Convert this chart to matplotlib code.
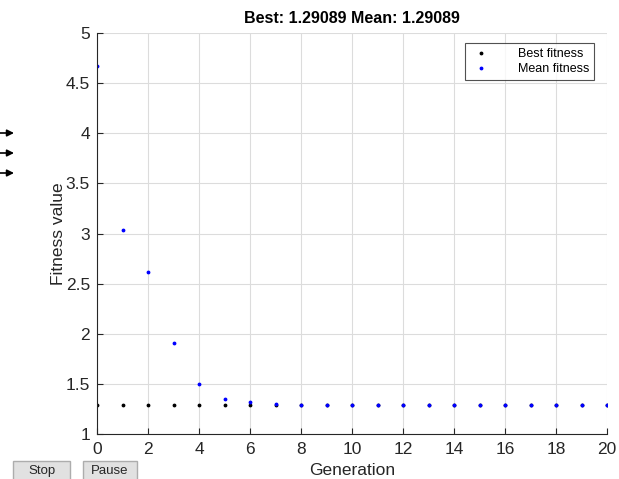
import matplotlib
matplotlib.use("Agg")
import matplotlib.pyplot as plt

generations = list(range(21))
best_fitness = [1.29089] * 21
mean_fitness = [4.67, 3.035, 2.62, 1.905, 1.495, 1.345, 1.315, 1.295, 1.292, 1.291, 1.291,
                1.291, 1.291, 1.291, 1.291, 1.291, 1.291, 1.291, 1.291, 1.291, 1.29089]
x_ticks = list(range(0, 21, 2))
y_ticks = [1, 1.5, 2, 2.5, 3, 3.5, 4, 4.5, 5]
y_labels = ["1", "1.5", "2", "2.5", "3", "3.5", "4", "4.5", "5"]

plt.rcParams['font.family'] = ['Liberation Sans', 'DejaVu Sans']
fig = plt.figure(figsize=(6.19, 4.79), dpi=100)
ax = fig.add_axes([97/619, 1-434/479, 510/619, 401/479])

ax.plot(generations, best_fitness, linestyle='none', marker='.', color='black', markersize=3.5, label='Best fitness')
ax.plot(generations, mean_fitness, linestyle='none', marker='.', color='blue', markersize=3.5, label='Mean fitness')

ax.set_xlim(0, 20)
ax.set_ylim(1, 5)
ax.set_xticks(x_ticks)
ax.set_yticks(y_ticks)
ax.set_yticklabels(y_labels)
ax.grid(True, color='#dcdcdc', linewidth=0.8)
ax.set_axisbelow(True)
for s in ['top', 'right']:
    ax.spines[s].set_visible(False)
for s in ['left', 'bottom']:
    ax.spines[s].set_color('#262626')
    ax.spines[s].set_linewidth(0.8)
ax.tick_params(direction='in', length=4, labelsize=12.5, colors='#262626', width=0.8)
ax.tick_params(axis='x', pad=6)
ax.tick_params(axis='y', pad=5)
ax.set_xlabel('Generation', fontsize=12.5, color='#262626', labelpad=4)
ax.set_ylabel('Fitness value', fontsize=12.5, color='#262626', labelpad=0)
ax.set_title('Best: 1.29089 Mean: 1.29089', fontsize=11.5, fontweight='bold', pad=7)

leg = ax.legend(loc='upper right', bbox_to_anchor=(594/619, 1-43/479), bbox_transform=fig.transFigure,
                fontsize=9, frameon=True, fancybox=False, edgecolor='#262626', handletextpad=2.0,
                borderpad=0.4, labelspacing=0.25, handlelength=1.8, borderaxespad=0)
leg.get_frame().set_linewidth(0.8)

# left arrows
for yy in [133, 153, 173]:
    fig.add_artist(matplotlib.patches.FancyArrowPatch((0, 1-yy/479), (14/619, 1-yy/479),
                   transform=fig.transFigure, arrowstyle='-|>', mutation_scale=10, color='black',
                   linewidth=1.2, shrinkA=0, shrinkB=0))

# buttons
for x0, w, txt in [(13, 57, 'Stop'), (83, 54, 'Pause')]:
    r = matplotlib.patches.Rectangle((x0/619, 1-480/479), w/619, 19/479, transform=fig.transFigure,
                                     facecolor='#e1e1e1', edgecolor='#adadad', linewidth=1)
    fig.add_artist(r)
    fig.text((x0 + w/2)/619, 1-471/479, txt, ha='center', va='center', fontsize=9.5, color='#262626')

fig.savefig('out.png', dpi=100)
